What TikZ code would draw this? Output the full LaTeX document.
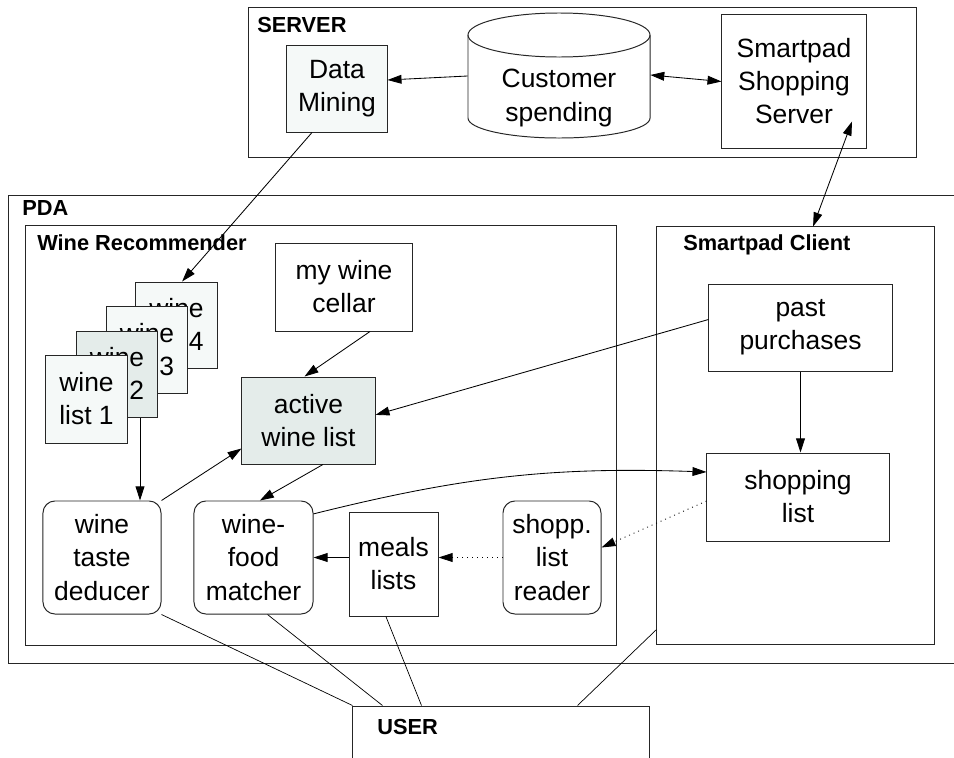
\documentclass[tikz,border=0pt]{standalone}
\usepackage{fontspec}
\setmainfont{Liberation Sans}
\usetikzlibrary{arrows.meta, positioning}
\definecolor{palemint}{RGB}{245,249,248}
\definecolor{greymint}{RGB}{228,236,234}
\newcommand{\txtfont}{\fontsize{18.8}{23.5}\selectfont}
\newcommand{\hdfont}{\fontsize{15.5}{18}\selectfont\bfseries}

\tikzset{
  frame/.style={draw=black!85, line width=0.7pt, rectangle, inner sep=0pt},
  box/.style={frame, align=center, font=\txtfont},
  rbox/.style={box, rounded corners=0.3cm},
  hd/.style={font=\hdfont, anchor=base west, inner sep=0pt},
  arr/.style={line width=0.6pt, -{Triangle[length=3.5mm,width=2.2mm]}},
  dblarr/.style={line width=0.6pt, {Triangle[length=3.5mm,width=2.2mm]}-{Triangle[length=3.5mm,width=2.2mm]}},
  wire/.style={line width=0.5pt},
}

\begin{document}
\begin{tikzpicture}[x=0.025cm, y=-0.025cm]
  \fill[white] (0,0) rectangle (954,757);
  \useasboundingbox (0,0) rectangle (954,757);

  % group frames
  \node[frame, minimum width=16.675cm, minimum height=3.725cm] (srv) at (582.5,82.5) {};
  \node[hd] (srvlbl) at (257,32.5) {SERVER};
  \node[frame, minimum width=24.025cm, minimum height=11.675cm] (pda) at (489.5,429.5) {};
  \node[hd] (pdalbl) at (22,215.5) {PDA};
  \node[frame, minimum width=14.75cm, minimum height=10.475cm] (winerec) at (321,435.5) {};
  \node[hd] (winereclbl) at (37,250.5) {Wine Recommender};
  \node[frame, minimum width=6.925cm, minimum height=10.425cm] (client) at (795.5,435.5) {};
  \node[hd] (clientlbl) at (683,250.5) {Smartpad Client};
  \node[frame, minimum width=7.4cm, minimum height=2.35cm] (user) at (501,753) {};
  \node[hd] (userlbl) at (377,734.5) {USER};

  % server side
  \node[box, fill=palemint, minimum width=2.5cm, minimum height=2.15cm] (mining) at (337,89) {Data\\Mining};
  \draw[line width=0.7pt, draw=black!85] (468,35) -- (468,118)
    arc[start angle=180, end angle=360, x radius=2.275cm, y radius=0.5cm] -- (650,35);
  \draw[line width=0.7pt, draw=black!85] (559,35) ellipse [x radius=2.275cm, y radius=0.55cm];
  \node[align=center, font=\txtfont, inner sep=0pt, minimum width=4.55cm] (spend) at (559,98) {Customer\\spending};
  \node[box, minimum width=3.6cm, minimum height=3.325cm] (shopsrv) at (794,81.5) {Smartpad\\Shopping\\Server};

  % wine lists, back to front
  \node[box, fill=palemint, minimum width=2.025cm, minimum height=2.15cm] (wl4) at (176.5,325) {wine\\list 4};
  \node[box, fill=palemint, minimum width=2.025cm, minimum height=2.175cm] (wl3) at (147,349.5) {wine\\list 3};
  \node[box, fill=greymint, minimum width=2.025cm, minimum height=2.15cm] (wl2) at (117,374) {wine\\list 2};
  \node[box, fill=palemint, minimum width=2.025cm, minimum height=2.2cm] (wl1) at (86.5,399) {wine\\list 1};

  \node[box, minimum width=3.4cm, minimum height=2.2cm] (cellar) at (344,287) {my wine\\cellar};
  \node[box, fill=greymint, minimum width=3.325cm, minimum height=2.175cm] (active) at (308.5,420.5) {active\\wine list};
  \node[rbox, minimum width=2.95cm, minimum height=2.825cm] (deducer) at (102,557.5) {wine\\taste\\deducer};
  \node[rbox, minimum width=2.975cm, minimum height=2.825cm] (matcher) at (253.5,557.5) {wine-\\food\\matcher};
  \node[box, minimum width=2.225cm, minimum height=2.6cm] (meals) at (393.5,564) {meals\\lists};
  \node[rbox, minimum width=2.45cm, minimum height=2.825cm] (reader) at (552,557.5) {shopp.\\list\\reader};

  \node[box, minimum width=4.575cm, minimum height=2.175cm] (past) at (800.5,327.5) {past\\purchases};
  \node[box, minimum width=4.55cm, minimum height=2.2cm] (shoplist) at (798,497) {shopping\\list};

  % connectors
  \draw[arr] ([yshift=0.55cm]spend.west) -- ([yshift=0.225cm]mining.east);
  \draw[dblarr] ([yshift=0.575cm]spend.east) -- (shopsrv.west);
  \draw[dblarr] ([xshift=0.44cm]client.north) -- ([xshift=1.45cm,yshift=-1cm]shopsrv.center);
  \draw[arr] ([xshift=-0.625cm]mining.south) -- ([xshift=0.14cm]wl4.north);
  \draw[arr] ([xshift=0.575cm]wl2.south) -- ([xshift=0.575cm]wl2.south |- deducer.north);
  \draw[arr] (deducer.north east) -- ([yshift=-0.7cm]active.west);
  \draw[arr] ([xshift=0.65cm]cellar.south) -- ([xshift=-0.1cm]active.north);
  \draw[arr] ([xshift=0.36cm]active.south) -- ([xshift=0.16cm]matcher.north);
  \draw[arr] ([yshift=0.2cm]past.west) -- ([yshift=0.14cm]active.east);
  \draw[arr] (past) -- (past |- shoplist.north);
  \draw[arr] ([yshift=1.09cm]matcher.east) to[out=14, in=178] ([yshift=0.625cm]shoplist.west);
  \draw[arr, dash pattern=on 0.7pt off 2.8pt] ([yshift=-0.1cm]shoplist.west) -- ([yshift=0.25cm]reader.east);
  \draw[arr, dash pattern=on 0.7pt off 2.8pt] (reader.west) -- (meals.east |- reader.west);
  \draw[arr] (meals.west |- matcher.east) -- (matcher.east);

  % lines to the user
  \draw[wire] (deducer.south east) -- (user.north west);
  \draw[wire] ([xshift=0.35cm]matcher.south) -- ([xshift=0.75cm]user.north west);
  \draw[wire] ([xshift=-0.19cm]meals.south) -- ([xshift=1.725cm]user.north west);
  \draw[wire] ([yshift=-4.85cm]client.west) -- ([xshift=5.625cm]user.north west);
\end{tikzpicture}
\end{document}
